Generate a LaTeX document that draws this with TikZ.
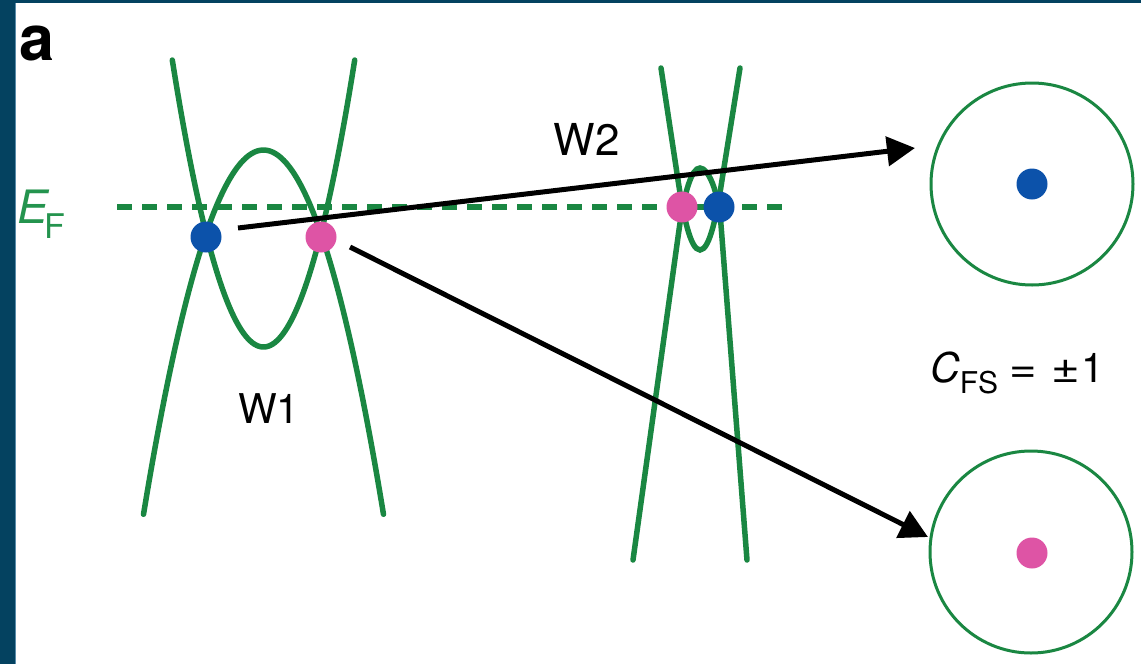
\documentclass[tikz,border=0pt]{standalone}
\usepackage{fontspec}
\setmainfont{TeX Gyre Heros}
\usetikzlibrary{arrows.meta}
\definecolor{framecol}{RGB}{4,66,96}
\definecolor{framelight}{RGB}{90,140,170}
\definecolor{bandcol}{RGB}{26,135,66}
\definecolor{efcol}{RGB}{36,148,78}
\definecolor{dotblue}{RGB}{12,82,170}
\definecolor{dotpink}{RGB}{222,84,165}
\tikzset{
  bandline/.style={draw=bandcol, line width=5.5pt, line cap=round},
  efline/.style={draw=bandcol, line width=5.5pt, dash pattern=on 15pt off 10pt},
  dotb/.style={circle, fill=dotblue, inner sep=0pt, minimum size=31pt},
  dotp/.style={circle, fill=dotpink, inner sep=0pt, minimum size=31pt},
  fscircle/.style={circle, draw=bandcol, line width=3pt, inner sep=0pt, minimum size=202pt},
  conn/.style={draw=black, line width=5pt, -{Triangle[length=28pt, width=29pt]}},
  lbl/.style={inner sep=0pt, anchor=base},
}
\begin{document}
\begin{tikzpicture}[x=1pt, y=-1pt]
% frame
\fill[framecol] (0,0) rectangle (1141,664);
\fill[white] (15,3) rectangle (1141,664);
\draw[framelight, line width=1.2pt] (15.6,3) -- (15.6,664);
\useasboundingbox (0,0) rectangle (1141,664);

% Fermi level
\draw[efline] (117,207) -- (790,207);

% W1 bands
\draw[bandline] plot[domain=-91.2:91.2, samples=90, smooth] ({263.5+\x}, {347-0.0345*\x*\x});
\draw[bandline] plot[domain=-120:120, samples=90, smooth] ({263.5+\x}, {150+0.0253*\x*\x});

% W2 bands
\draw[bandline] (633,560) -- (679,230) .. controls (684.6,190) and (692,168) .. (700,168)
   .. controls (708,168) and (718.3,190) .. (721,225) -- (747,560);
\draw[bandline] (661,68) -- (678,180) .. controls (683,213) and (690,250) .. (700,250)
   .. controls (710,250) and (717,213) .. (722,180) -- (740,68);

% Fermi surfaces
\node[fscircle] (fs1) at (1032,184) {};
\node[fscircle] (fs2) at (1031,552) {};

% connectors
\coordinate (a1s) at (238,228);
\coordinate (a1e) at (915,148);
\coordinate (a2s) at (350,247);
\coordinate (a2e) at (928,537);
\draw[conn] (a1s) -- (a1e);
\draw[conn] (a2s) -- (a2e);

% Weyl points
\node[dotb] (w1b) at (206,237) {};
\node[dotp] (w1p) at (321,237) {};
\node[dotp] (w2p) at (682,207) {};
\node[dotb] (w2b) at (719,207) {};
\node[dotb] (fs1d) at (1032,184) {};
\node[dotp] (fs2d) at (1032,553) {};

% labels
\node[inner sep=0pt, anchor=base west] (panel) at (19,60) {\fontsize{63}{63}\selectfont\bfseries a};
\node[inner sep=0pt, anchor=base west, text=efcol] (ef) at (17,223)
  {\fontsize{46}{46}\selectfont\itshape E\upshape\kern-3pt\raisebox{-15pt}{\fontsize{34}{34}\selectfont F}};
\node[lbl] (w1) at (269,423) {\fontsize{41}{41}\selectfont W1};
\node[lbl] (w2) at (586.5,155) {\fontsize{44}{44}\selectfont W2};
\node[inner sep=0pt, anchor=base west] (cfs) at (930,382)
  {\fontsize{41}{41}\selectfont\textit{C}\raisebox{-11pt}{\fontsize{30}{30}\selectfont FS}\kern11pt\scalebox{1.15}[1]{=}\kern15pt\scalebox{1.2}[1]{±}\kern1pt 1};
\end{tikzpicture}
\end{document}
